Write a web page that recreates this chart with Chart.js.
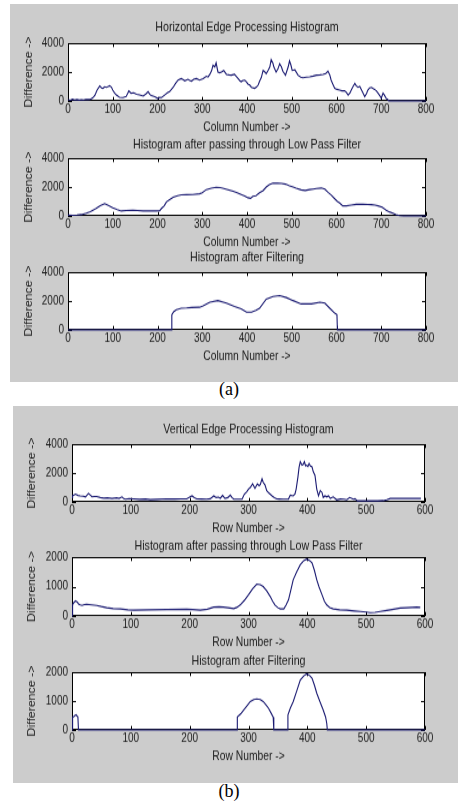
<!DOCTYPE html>
<html>
<head>
<meta charset="utf-8">
<script src="https://cdn.jsdelivr.net/npm/chart.js@4.4.1/dist/chart.umd.min.js"></script>
<style>
  body { margin: 0; width: 458px; height: 808px; background: #fff; position: relative; overflow: hidden; }
  .panel { position: absolute; background: #cccccc; }
  canvas.sub { position: absolute; }
  .cap { position: absolute; width: 458px; left: 0; text-align: center; font: 18px "Liberation Serif", "Times New Roman", serif; color: #000; }
</style>
</head>
<body>
<div class="panel" style="left:10px;top:4px;width:448px;height:378px"></div>
<div class="panel" style="left:13px;top:406px;width:445px;height:377px"></div>
<div class="cap" style="top:379px">(a)</div>
<div class="cap" style="top:781px">(b)</div>
<canvas class="sub" id="a1"></canvas>
<canvas class="sub" id="a2"></canvas>
<canvas class="sub" id="a3"></canvas>
<canvas class="sub" id="b1"></canvas>
<canvas class="sub" id="b2"></canvas>
<canvas class="sub" id="b3"></canvas>
<script>
// --- DATA ---
// (a) horizontal edge processing: [column, difference]
const hRawDiff = [[0,90],[5,40],[10,110],[15,60],[20,90],[25,50],[30,80],[35,60],[40,100],[45,90],[50,110],[55,200],[60,380],[65,750],[71,1030],[75,900],[78,870],[82,980],[86,940],[90,1000],[93,1050],[97,950],[100,750],[104,560],[108,410],[115,250],[123,230],[130,300],[136,690],[141,530],[147,560],[153,460],[160,420],[168,340],[174,480],[179,640],[183,450],[186,370],[194,300],[201,160],[205,250],[209,230],[216,410],[222,560],[227,640],[235,940],[240,1200],[246,1440],[253,1550],[257,1480],[261,1390],[268,1500],[272,1420],[276,1370],[281,1500],[287,1550],[294,1440],[302,1550],[309,1700],[313,1650],[317,1840],[321,2100],[324,2470],[328,2350],[331,2630],[335,2000],[339,1950],[343,2000],[348,2110],[354,1840],[360,1800],[365,1780],[372,1840],[376,1700],[380,1550],[384,1400],[387,1330],[391,1420],[395,1440],[399,1300],[402,1170],[406,1100],[410,940],[417,870],[421,950],[425,1100],[428,1350],[432,1620],[436,2110],[440,2000],[443,1890],[447,2100],[451,2350],[454,2860],[458,2600],[460,2350],[465,2000],[469,2200],[473,2570],[477,2350],[480,2060],[486,1780],[492,2350],[495,2770],[498,2500],[501,2110],[507,2150],[514,1780],[520,1650],[525,1600],[533,1650],[540,1670],[548,1720],[555,1780],[563,1800],[570,1840],[576,1900],[581,2060],[585,1800],[588,1440],[592,1150],[596,870],[601,800],[607,750],[612,700],[618,710],[622,600],[626,410],[630,550],[633,750],[637,1000],[641,1210],[644,1050],[648,940],[652,1000],[656,750],[660,500],[663,300],[667,500],[670,750],[674,900],[678,940],[682,850],[685,800],[689,700],[693,530],[697,350],[700,180],[704,530],[707,400],[711,180],[714,100],[717,0],[720,0],[800,0]];
const hLpfDiff = [[0,50],[10,40],[20,60],[30,90],[41,180],[50,300],[63,520],[72,700],[82,850],[90,720],[100,560],[110,430],[119,340],[130,370],[145,400],[155,380],[168,340],[180,340],[197,340],[205,360],[209,520],[215,700],[220,970],[228,1150],[235,1300],[245,1400],[253,1460],[265,1470],[279,1480],[294,1530],[300,1600],[309,1820],[320,1920],[331,1980],[340,1960],[346,1910],[355,1830],[369,1710],[378,1600],[387,1480],[395,1380],[402,1260],[408,1220],[413,1350],[420,1400],[428,1600],[436,1750],[443,2000],[450,2160],[458,2270],[468,2260],[477,2250],[486,2200],[495,2090],[503,2000],[510,1910],[521,1800],[530,1760],[540,1820],[548,1860],[555,1890],[566,1930],[574,1850],[581,1640],[588,1450],[596,1190],[602,1000],[607,900],[614,700],[622,700],[633,750],[644,800],[659,800],[670,790],[678,780],[686,750],[693,700],[702,600],[711,400],[718,280],[726,180],[733,80],[741,20],[750,0],[800,0]];
const hFiltDiff = [[0,0],[231,0],[232,1050],[236,1250],[242,1390],[253,1500],[265,1520],[276,1550],[294,1570],[302,1660],[317,1920],[335,2030],[354,1850],[372,1620],[387,1460],[399,1230],[410,1230],[420,1350],[428,1500],[443,2130],[458,2310],[473,2380],[488,2240],[503,2030],[521,1800],[544,1800],[563,1920],[574,1850],[585,1500],[596,1160],[601,1050],[602,0],[800,0]];

// (b) vertical edge processing: [row, difference]
const vRawDiff = [[0,300],[1,420],[6,540],[10,450],[14,420],[19,400],[23,350],[28,590],[34,350],[38,370],[42,380],[48,300],[54,260],[60,280],[68,240],[72,260],[76,280],[80,240],[85,350],[88,220],[91,190],[97,230],[105,210],[115,180],[125,200],[133,160],[145,180],[161,210],[175,200],[185,210],[195,210],[200,330],[204,420],[208,300],[212,210],[220,200],[229,190],[235,220],[241,420],[245,300],[249,330],[252,250],[256,450],[260,240],[265,300],[269,470],[272,300],[275,190],[283,190],[289,190],[293,540],[297,700],[300,890],[303,1000],[307,1250],[311,940],[315,1250],[318,1130],[320,1200],[323,1600],[325,1350],[328,1180],[331,780],[335,600],[340,420],[344,300],[348,210],[352,200],[359,190],[365,190],[368,200],[371,470],[376,420],[379,550],[381,890],[384,1720],[386,2400],[388,2780],[391,2540],[393,2600],[395,2780],[397,2500],[399,2540],[401,2450],[403,2660],[405,2500],[408,2420],[410,2100],[413,1840],[416,890],[419,420],[422,780],[425,650],[427,310],[430,420],[433,350],[436,420],[439,240],[444,350],[450,140],[456,200],[462,190],[467,150],[472,310],[475,250],[478,190],[481,220],[485,70],[490,70],[500,70],[512,70],[520,70],[529,90],[535,140],[541,240],[547,240],[555,240],[564,240],[575,240],[586,240],[593,240]];
const vLpfDiff = [[0,0],[1,380],[3,450],[6,510],[9,470],[11,410],[14,380],[17,360],[21,390],[25,400],[33,380],[42,360],[50,320],[59,280],[70,250],[82,240],[95,210],[105,200],[130,210],[161,220],[195,230],[205,220],[218,200],[230,230],[241,300],[250,310],[257,300],[265,280],[275,250],[280,290],[286,375],[293,530],[300,720],[307,920],[314,1080],[320,1060],[325,1000],[331,850],[337,660],[341,500],[345,375],[350,280],[354,240],[360,240],[364,380],[368,545],[372,880],[376,1230],[382,1500],[388,1740],[394,1880],[399,1930],[404,1880],[408,1800],[412,1550],[416,1230],[420,980],[425,720],[429,500],[433,375],[438,290],[444,240],[455,210],[467,200],[480,170],[490,150],[500,130],[507,110],[515,120],[524,150],[535,190],[547,230],[558,270],[569,280],[578,290],[586,300],[592,290]];
const vFiltDiff = [[0,0],[1,440],[3,460],[5,500],[7,520],[9,470],[10,460],[11,0],[281,0],[281,450],[287,560],[292,690],[298,850],[303,980],[309,1050],[314,1075],[320,1050],[325,980],[330,860],[334,750],[338,600],[342,440],[343,0],[367,0],[367,520],[371,750],[376,980],[382,1350],[388,1730],[394,1870],[399,1940],[404,1880],[408,1790],[412,1550],[416,1270],[421,1000],[427,690],[431,450],[433,230],[434,0],[600,0]];

// tick labels
const colTicks = [0, 100, 200, 300, 400, 500, 600, 700, 800];
const rowTicks = [0, 100, 200, 300, 400, 500, 600];
const diffTicks4k = [0, 2000, 4000];
const diffTicks2k = [0, 1000, 2000];

// --- STYLE ---
const LINE_COLOR = '#1a1a72';
const TEXT_COLOR = '#1a1a1a';
const SANS = '"Liberation Sans", Arial, Helvetica, sans-serif';
const PAGE_W = 458;
// the reference figure is stretched vertically, so each canvas is drawn
// 1/STRETCH as tall and scaled back up by CSS (tall, narrow-looking text)
const STRETCH = 1.2;

// white plot area, black box and inward ticks on all four sides (MATLAB look)
const matlabAxes = {
    id: 'matlabAxes',
    beforeDraw(chart) {
        const { ctx, chartArea: a } = chart;
        ctx.save();
        ctx.fillStyle = '#fff';
        ctx.fillRect(a.left, a.top, a.right - a.left, a.bottom - a.top);
        ctx.restore();
    },
    beforeDatasetsDraw(chart) {
        const { ctx, chartArea: a, scales: { x, y } } = chart;
        const tlx = 4, tly = 4 / STRETCH;
        ctx.save();
        ctx.strokeStyle = '#000';
        ctx.lineWidth = 1;
        ctx.beginPath();
        x.ticks.forEach(t => {
            const px = Math.round(x.getPixelForValue(t.value)) + 0.5;
            ctx.moveTo(px, a.bottom); ctx.lineTo(px, a.bottom - tly);
            ctx.moveTo(px, a.top); ctx.lineTo(px, a.top + tly);
        });
        y.ticks.forEach(t => {
            const py = Math.round(y.getPixelForValue(t.value)) + 0.5;
            ctx.moveTo(a.left, py); ctx.lineTo(a.left + tlx, py);
            ctx.moveTo(a.right, py); ctx.lineTo(a.right - tlx, py);
        });
        ctx.stroke();
        ctx.strokeRect(a.left + 0.5, a.top + 0.5, a.right - a.left - 1, a.bottom - a.top - 1);
        ctx.restore();
    }
};

// layout of each subplot (page px): panel left edge, plot box, title gap, y-label centre
const subplots = [
    { id: 'a1', data: hRawDiff,  xt: colTicks, yt: diffTicks4k, title: 'Horizontal Edge Processing Histogram', xLabel: 'Column Number ->', panelLeft: 10, box: [68, 43, 426, 101], gap: 16, yLabelX: 29 },
    { id: 'a2', data: hLpfDiff,  xt: colTicks, yt: diffTicks4k, title: 'Histogram after passing through Low Pass Filter', xLabel: 'Column Number ->', panelLeft: 10, box: [68, 158, 426, 216], gap: 13, yLabelX: 29 },
    { id: 'a3', data: hFiltDiff, xt: colTicks, yt: diffTicks4k, title: 'Histogram after Filtering', xLabel: 'Column Number ->', panelLeft: 10, box: [68, 272, 426, 330], gap: 14, yLabelX: 29 },
    { id: 'b1', data: vRawDiff,  xt: rowTicks, yt: diffTicks4k, title: 'Vertical Edge Processing Histogram', xLabel: 'Row Number ->', panelLeft: 13, box: [72, 444, 425, 501], gap: 14, yLabelX: 32 },
    { id: 'b2', data: vLpfDiff,  xt: rowTicks, yt: diffTicks2k, title: 'Histogram after passing through Low Pass Filter', xLabel: 'Row Number ->', panelLeft: 13, box: [72, 557, 425, 616], gap: 11, yLabelX: 32 },
    { id: 'b3', data: vFiltDiff, xt: rowTicks, yt: diffTicks2k, title: 'Histogram after Filtering', xLabel: 'Row Number ->', panelLeft: 13, box: [72, 672, 425, 730], gap: 11, yLabelX: 32 }
];

function makeSubplot(sp) {
    const [l, t, r, b] = sp.box;
    const TOP_C = 25, BOTTOM_C = 30;           // canvas px above / below the plot box
    const plotH = Math.round((b - t) / STRETCH);
    const canvas = document.getElementById(sp.id);
    canvas.width = PAGE_W - sp.panelLeft;
    canvas.height = TOP_C + plotH + BOTTOM_C;
    canvas.style.width = canvas.width + 'px';
    canvas.style.height = (canvas.height * STRETCH) + 'px';
    canvas.style.left = sp.panelLeft + 'px';
    canvas.style.top = (t - TOP_C * STRETCH) + 'px';

    const gapC = sp.gap / STRETCH;
    const tickFont = { family: SANS, size: 10, lineHeight: '12px' };
    const labelFont = { family: SANS, size: 10.3, lineHeight: '12px' };
    return new Chart(canvas, {
        type: 'line',
        data: {
            datasets: [{
                data: sp.data.map(p => ({ x: p[0], y: p[1] })),
                borderColor: LINE_COLOR,
                borderWidth: 1.1,
                pointRadius: 0,
                tension: 0,
                clip: false
            }]
        },
        options: {
            responsive: false,
            animation: false,
            events: [],
            layout: { padding: { left: 0, top: 0, right: PAGE_W - r, bottom: 0 } },
            plugins: {
                legend: { display: false },
                tooltip: { enabled: false },
                title: {
                    display: true,
                    text: sp.title,
                    fullSize: false,
                    color: TEXT_COLOR,
                    font: { family: SANS, size: 10.7, weight: 'normal', lineHeight: '12px' },
                    padding: { top: TOP_C - gapC - 6, bottom: gapC - 6 }
                }
            },
            scales: {
                x: {
                    type: 'linear',
                    min: sp.xt[0],
                    max: sp.xt[sp.xt.length - 1],
                    afterBuildTicks: s => { s.ticks = sp.xt.map(v => ({ value: v })); },
                    afterFit: s => { s.height = BOTTOM_C; },
                    grid: { display: false, drawTicks: false },
                    border: { display: false },
                    ticks: { color: TEXT_COLOR, font: tickFont, padding: 1.5, autoSkip: false, maxRotation: 0, callback: v => String(v) },
                    title: { display: true, text: sp.xLabel, color: TEXT_COLOR, font: labelFont, padding: { top: 0, bottom: 2.3 } }
                },
                y: {
                    min: sp.yt[0],
                    max: sp.yt[sp.yt.length - 1],
                    afterBuildTicks: s => { s.ticks = sp.yt.map(v => ({ value: v })); },
                    afterFit: s => { s.width = l - sp.panelLeft; },
                    grid: { display: false, drawTicks: false },
                    border: { display: false },
                    ticks: { color: TEXT_COLOR, font: tickFont, padding: 4, callback: v => String(v) },
                    title: { display: true, text: 'Difference ->', color: TEXT_COLOR, font: labelFont, padding: { top: sp.yLabelX - sp.panelLeft - 6, bottom: 0 } }
                }
            }
        },
        plugins: [matlabAxes]
    });
}

subplots.forEach(makeSubplot);
</script>
</body>
</html>
